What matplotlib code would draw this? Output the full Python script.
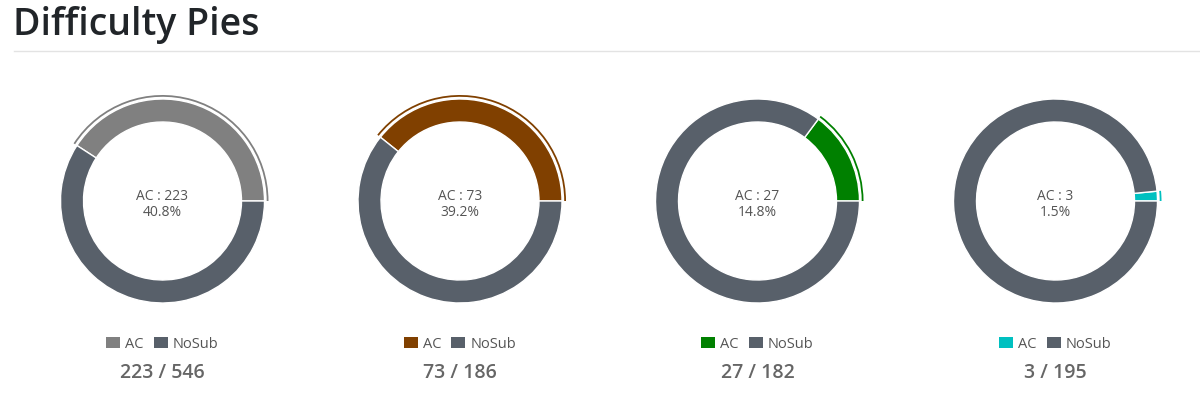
import matplotlib
matplotlib.use("Agg")
import matplotlib.pyplot as plt
from matplotlib.patches import Wedge, Patch
from matplotlib.lines import Line2D

plt.rcParams['font.family'] = ['Open Sans', 'DejaVu Sans']

title = "Difficulty Pies"
ac_values = [223, 73, 27, 3]
totals = [546, 186, 182, 195]
ac_colors = ["#808080", "#804000", "#008000", "#00C0C0"]
nosub_color = "#58606A"
labels = ["AC", "NoSub"]

W, Hf = 1200, 402
fig = plt.figure(figsize=(W / 100, Hf / 100), dpi=100)
fig.patch.set_facecolor("white")

fig.text(13 / W, 1 - 35 / Hf, title, fontsize=27, fontweight='semibold',
         color="#212529", va='baseline', ha='left')
fig.add_artist(Line2D([14 / W, 1.0], [1 - 51.5 / Hf, 1 - 51.5 / Hf],
                      color="#e3e3e3", linewidth=1, transform=fig.transFigure))

centers_x = [162.5, 460, 757.5, 1055.5]
cy = 202
H = 120
R = 102
ring = 23

for i, (ac, tot, col) in enumerate(zip(ac_values, totals, ac_colors)):
    cx = centers_x[i]
    ax = fig.add_axes([(cx - H) / W, 1 - (cy + H) / Hf, 2 * H / W, 2 * H / Hf])
    nosub = tot - ac
    ax.pie([ac, nosub], radius=R, startangle=0, counterclock=True,
           colors=[col, nosub_color],
           wedgeprops=dict(width=ring, edgecolor='white', linewidth=1))
    ang = 360.0 * ac / tot
    ax.add_patch(Wedge((0, 0), R + 4.0, 0, ang, width=1.8, facecolor=col,
                       edgecolor='none'))
    ax.set_xlim(-H, H)
    ax.set_ylim(-H, H)
    ax.set_aspect('equal')
    ax.axis('off')
    pct = 100.0 * ac / tot
    ax.text(0, 5, f"AC : {ac}", ha='center', va='center', fontsize=10, color="#555555")
    ax.text(0, -11, f"{pct:.1f}%", ha='center', va='center', fontsize=10, color="#555555")
    handles = [Patch(facecolor=col, edgecolor='none'), Patch(facecolor=nosub_color, edgecolor='none')]
    ax.legend(handles, labels, loc='center', bbox_to_anchor=(0.5, (H - 143) / (2 * H)),
              ncol=2, frameon=False, fontsize=10.5, handlelength=0.95, handleheight=0.75,
              handletextpad=0.35, columnspacing=0.7, labelcolor="#555555")
    ax.text(0, -171, f"{ac} / {tot}", ha='center', va='center', fontsize=14,
            fontweight='semibold', color="#666666", clip_on=False)

fig.savefig("out.png", dpi=100, facecolor="white")
